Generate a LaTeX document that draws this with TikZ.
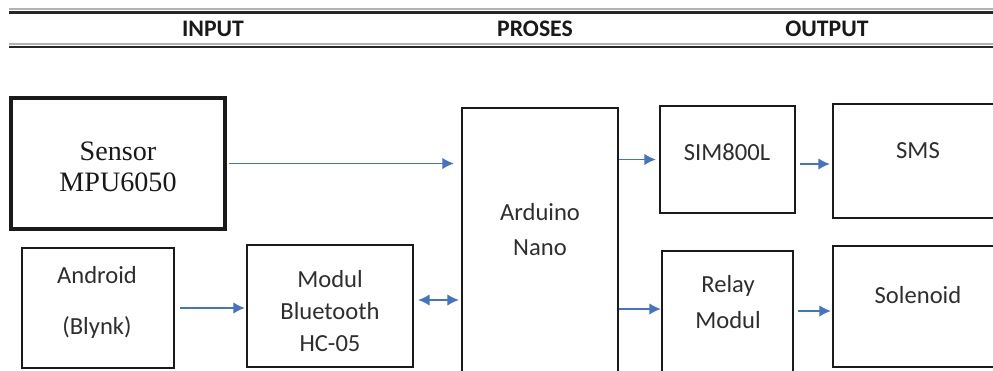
\documentclass[tikz,border=0pt]{standalone}
\usepackage{fontspec}
\setmainfont{Carlito}
\newfontfamily\seriffont{Liberation Serif}
\usetikzlibrary{arrows.meta}
\definecolor{linkblue}{HTML}{4472C4}
\definecolor{boxline}{HTML}{1A1A1A}
\definecolor{textgray}{HTML}{2E2E2E}

\begin{document}
\begin{tikzpicture}
  [
  x=0.02cm, y=-0.02cm,
  block/.style={draw=boxline, line width=1.3pt, inner sep=0pt},
  heavy/.style={block, line width=2pt},
  boxtext/.style={font={\fontsize{14}{18}\selectfont}, text=textgray,
    align=center, inner sep=0pt},
  heading/.style={font={\fontsize{13.5}{15}\selectfont\bfseries}, text=black!90},
  link/.style={draw=linkblue, line width=1pt,
    -{Latex[length=6.5pt,width=6.5pt]}},
  ]
  \useasboundingbox (0,0) rectangle (993,370);
  \clip (0,0) rectangle (993,370);

  % Header rules
  \draw[gray!60, line width=1.2pt] (9,9.3) -- (993,9.3);
  \draw[black!85, line width=1.4pt] (9,12.4) -- (993,12.4);
  \draw[gray!60, line width=1.2pt] (9,43.7) -- (993,43.7);
  \draw[black!85, line width=1.4pt] (9,47) -- (993,47);
  \node[heading] (input) at (213,29) {INPUT};
  \node[heading] (proses) at (535,29) {PROSES};
  \node[heading] (output) at (827,29) {OUTPUT};

  % Blocks
  \node[heavy, minimum width=4.28cm, minimum height=2.62cm] (sensor) at (118,163.5) {};
  \node[block, minimum width=3.04cm, minimum height=2.4cm] (android) at (98,308) {};
  \node[block, minimum width=3.32cm, minimum height=2.44cm] (bluetooth) at (330,306) {};
  \node[block, minimum width=3.12cm, minimum height=5.84cm] (arduino) at (540,254) {};
  \node[block, minimum width=2.7cm, minimum height=2.14cm] (sim) at (727.5,159.5) {};
  \node[block, minimum width=3.44cm, minimum height=2.28cm] (sms) at (919,161) {};
  \node[block, minimum width=2.62cm, minimum height=2.98cm] (relay) at (727.5,325.5) {};
  \node[block, minimum width=3.34cm, minimum height=2.42cm] (solenoid) at (916.5,306.5) {};

  % Block texts
  \node[boxtext, font={\seriffont\fontsize{16}{17.8}\selectfont}, text=black!90]
    (sensor-txt) at (118,167) {Sensor\\MPU6050};
  \node[boxtext, font={\fontsize{14}{29}\selectfont}] (android-txt) at (97,302) {Android\\(Blynk)};
  \node[boxtext] (bluetooth-txt) at (330,311) {Modul\\Bluetooth\\HC-05};
  \node[boxtext, font={\fontsize{14}{20}\selectfont}] (arduino-txt) at (540,229.5) {Arduino\\Nano};
  \node[boxtext] (sim-txt) at (727,152) {SIM800L};
  \node[boxtext] (sms-txt) at (918,151) {SMS};
  \node[boxtext, font={\fontsize{14}{20.5}\selectfont}] (relay-txt) at (728,302) {Relay\\Modul};
  \node[boxtext] (solenoid-txt) at (918,295) {Solenoid};

  % Connectors
  \coordinate (sms-in) at ([yshift=-0.06cm]sms.west);
  \coordinate (bt-out) at ([yshift=0.12cm]bluetooth.east);
  \coordinate (relay-in) at ([yshift=0.33cm]relay.west);
  \coordinate (sol-in) at ([yshift=-0.09cm]solenoid.west);

  \draw[link, shorten <=0.04cm, shorten >=0.14cm] (sensor.east) -- (sensor.east -| arduino.west);
  \draw[link, shorten >=0.06cm] (sim.west -| arduino.east) -- (sim.west);
  \draw[link, shorten <=0.08cm, shorten >=0.04cm] (sms-in -| sim.east) -- (sms-in);
  \draw[link, shorten <=0.1cm, shorten >=0.02cm] (android.east) -- (android.east -| bluetooth.west);
  \draw[link, {Latex[length=6.5pt,width=6.5pt]}-{Latex[length=6.5pt,width=6.5pt]},
    shorten <=0.08cm, shorten >=0.04cm] (bt-out) -- (bt-out -| arduino.west);
  \draw[link] (relay-in -| arduino.east) -- (relay-in);
  \draw[link, shorten <=0.08cm, shorten >=0.02cm] (sol-in -| relay.east) -- (sol-in);
\end{tikzpicture}
\end{document}
